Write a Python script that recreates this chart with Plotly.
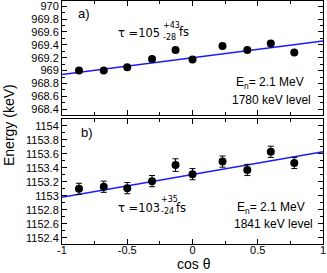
import plotly.graph_objects as go

# ---------------- data ----------------
cos_theta = [-0.87, -0.68, -0.5, -0.31, -0.13, 0.0, 0.23, 0.42, 0.6, 0.78]

energy_a = [969.00, 969.00, 969.05, 969.18, 969.32, 969.17, 969.38, 969.32, 969.42, 969.28]
energy_b = [1153.10, 1153.13, 1153.11, 1153.21, 1153.44, 1153.31, 1153.49, 1153.37, 1153.63, 1153.47]
err_b = [0.08, 0.08, 0.08, 0.08, 0.09, 0.08, 0.08, 0.08, 0.08, 0.08]

fit_x = [-1, 1]
fit_a = [968.94, 969.46]
fit_b = [1152.98, 1153.63]

x_ticks = [-1, -0.5, 0, 0.5, 1]
x_tick_labels = ["-1", "-0.5", "0", "0.5", "1"]
a_ticks = [968.4, 968.6, 968.8, 969.0, 969.2, 969.4, 969.6, 969.8, 970.0]
a_tick_labels = ["968.4", "968.6", "968.8", "969", "969.2", "969.4", "969.6", "969.8", "970"]
b_ticks = [1152.4, 1152.6, 1152.8, 1153.0, 1153.2, 1153.4, 1153.6, 1153.8, 1154.0]
b_tick_labels = ["1152.4", "1152.6", "1152.8", "1153", "1153.2", "1153.4", "1153.6", "1153.8", "1154"]

# ---------------- figure ----------------
W, H = 327, 273
ML, MR, MT, MB = 62, 4, 1, 29
PW, PH = W - ML - MR, H - MT - MB

FONT = "Liberation Sans, Arial, sans-serif"
WIDE = "DejaVu Sans, sans-serif"
BLUE = "#1a1aff"

fig = go.Figure()

# panel a (top) -> x2 / y2
fig.add_trace(go.Scatter(x=fit_x, y=fit_a, mode="lines", line=dict(color=BLUE, width=1.5),
                         xaxis="x2", yaxis="y2", showlegend=False, hoverinfo="skip"))
fig.add_trace(go.Scatter(x=cos_theta, y=energy_a, mode="markers",
                         marker=dict(color="black", size=8),
                         xaxis="x2", yaxis="y2", showlegend=False))

# panel b (bottom) -> x / y
fig.add_trace(go.Scatter(x=fit_x, y=fit_b, mode="lines", line=dict(color=BLUE, width=1.5),
                         xaxis="x", yaxis="y", showlegend=False, hoverinfo="skip"))
fig.add_trace(go.Scatter(x=cos_theta, y=energy_b, mode="markers",
                         marker=dict(color="black", size=8),
                         error_y=dict(type="data", array=err_b, color="black", thickness=1, width=3),
                         xaxis="x", yaxis="y", showlegend=False))


def px_to_paper(px, py):
    return (px - ML) / PW, (H - MB - py) / PH


top_lo = (H - MB - 115) / PH
bot_hi = (H - MB - 119) / PH

axis_common = dict(
    showline=True, linecolor="black", linewidth=1, mirror="ticks",
    ticks="inside", ticklen=5, tickcolor="black", tickwidth=1,
    showgrid=False, zeroline=False,
    tickfont=dict(family=FONT, size=11, color="black"),
)

fig.update_layout(
    width=W, height=H,
    margin=dict(l=ML, r=MR, t=MT, b=MB),
    paper_bgcolor="white", plot_bgcolor="white",
    font=dict(family=FONT, color="black"),
    xaxis=dict(domain=[0, 1], range=[-1, 1], anchor="y",
               tickvals=x_ticks, ticktext=x_tick_labels, ticklabelstandoff=-4,
               minor=dict(ticks="inside", ticklen=3, dtick=0.25, tick0=-1, tickcolor="black"),
               **axis_common),
    yaxis=dict(domain=[0, bot_hi], range=[1152.31, 1154.10], anchor="x",
               tickvals=b_ticks, ticktext=b_tick_labels,
               minor=dict(ticks="inside", ticklen=3, dtick=0.1, tick0=1152.4, tickcolor="black"),
               **axis_common),
    xaxis2=dict(domain=[0, 1], range=[-1, 1], anchor="y2", matches="x",
                tickvals=x_ticks, ticktext=x_tick_labels, showticklabels=False,
                minor=dict(ticks="inside", ticklen=3, dtick=0.25, tick0=-1, tickcolor="black"),
                **axis_common),
    yaxis2=dict(domain=[top_lo, 1], range=[968.31, 970.08], anchor="x2",
                tickvals=a_ticks, ticktext=a_tick_labels,
                minor=dict(ticks="inside", ticklen=3, dtick=0.1, tick0=968.4, tickcolor="black"),
                **axis_common),
)


def note(text, px, py, size, xanchor="left", angle=0, family=FONT):
    x, y = px_to_paper(px, py)
    fig.add_annotation(text=text, x=x, y=y, xref="paper", yref="paper",
                       xanchor=xanchor, yanchor="middle", showarrow=False,
                       textangle=angle, font=dict(family=family, size=size, color="black"))


# panel a labels
note("a)", 76, 13, 13)
note("τ =105", 116, 33, 11.5, family=WIDE)
note("+43", 161, 25, 8, family=WIDE)
note("-28", 161, 38, 8, family=WIDE)
note("fs", 177, 32, 11.5, family=WIDE)
note("E<sub>n</sub>= 2.1 MeV", 270, 83, 12, "center")
note("1780 keV level", 271, 100, 12, "center")

# panel b labels
note("b)", 79, 132, 13)
note("τ =103", 116, 208, 11.5, family=WIDE)
note("+35", 159, 200, 8, family=WIDE)
note("-24", 159, 212, 8, family=WIDE)
note("fs", 174, 208, 11.5, family=WIDE)
note("E<sub>n</sub>= 2.1 MeV", 271, 208, 12, "center")
note("1841 keV level", 273, 224, 12, "center")

# axis titles
note("Energy (keV)", 9, 125, 14, "center", -90)
note("cos θ", 194, 264, 14, "center")

fig.write_html("out.html",
               config={"displayModeBar": False},
               post_script="document.body.style.margin='0px';document.body.style.padding='0px';")
